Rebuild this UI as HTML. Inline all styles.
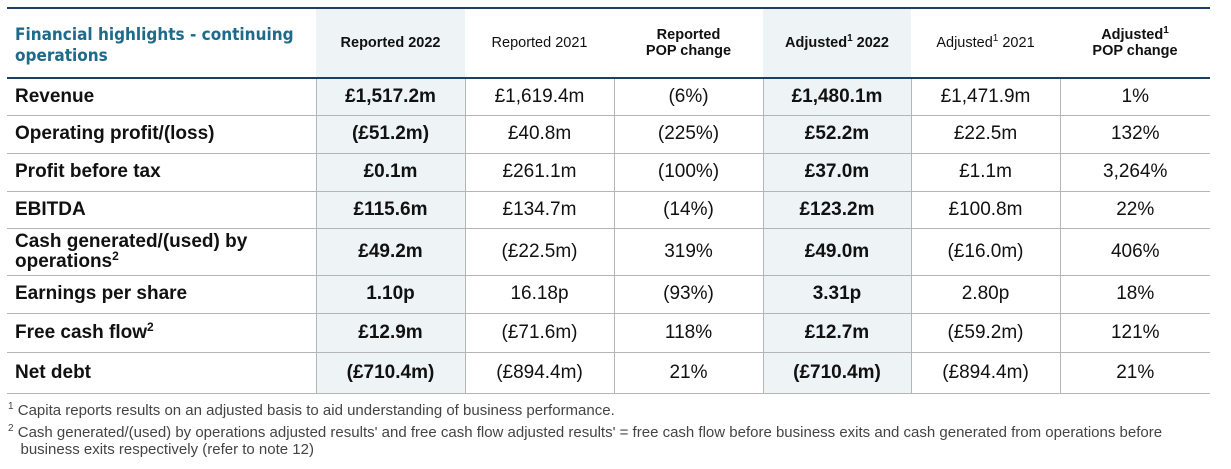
<!DOCTYPE html>
<html><head><meta charset="utf-8"><style>
body{margin:0;width:1231px;height:469px;background:#fff;font-family:"Liberation Sans",sans-serif;position:relative;overflow:hidden}
table{position:absolute;left:7px;top:7px;border-collapse:collapse;table-layout:fixed;width:1203px}
td,th{padding:0;text-align:center;color:#111;font-size:19px}
th{font-size:14.5px;font-weight:normal;height:62px;border-top:2px solid #1d3f66;border-bottom:2px solid #1d3f66}
th.b{font-weight:bold}
th.title{text-align:left;font-family:"DejaVu Sans Condensed","Liberation Sans",sans-serif;font-weight:bold;color:#1d6a8a;font-size:17px;line-height:21px;padding-left:8px;padding-top:6px}
td{border:1px solid #b5b5b5;border-top:none}
tr.r td{border-top:1px solid #b5b5b5}
td:first-child{border-left:none;text-align:left;font-weight:bold;padding-left:8px;line-height:20px}
td:last-child{border-right:none}
.sh{background:#eef4f5}
td.v{font-weight:bold}
sup{font-size:10px;vertical-align:6px;line-height:0}
td sup{font-size:12px;vertical-align:7px}
.fn{position:absolute;left:8px;font-size:15px;color:#444;line-height:17px}
</style></head><body>
<table>
<colgroup><col style="width:309px"><col style="width:149px"><col style="width:149px"><col style="width:149px"><col style="width:148px"><col style="width:149px"><col style="width:150px"></colgroup>
<tr>
<th class="title">Financial highlights - continuing operations</th>
<th class="b sh">Reported 2022</th>
<th>Reported 2021</th>
<th class="b">Reported<br>POP change</th>
<th class="b sh">Adjusted<sup>1</sup> 2022</th>
<th>Adjusted<sup>1</sup> 2021</th>
<th class="b">Adjusted<sup>1</sup><br>POP change</th>
</tr>
<tr style="height:37px"><td>Revenue</td><td class="sh v">£1,517.2m</td><td>£1,619.4m</td><td>(6%)</td><td class="sh v">£1,480.1m</td><td>£1,471.9m</td><td>1%</td></tr>
<tr style="height:38px"><td>Operating profit/(loss)</td><td class="sh v">(£51.2m)</td><td>£40.8m</td><td>(225%)</td><td class="sh v">£52.2m</td><td>£22.5m</td><td>132%</td></tr>
<tr style="height:38px"><td>Profit before tax</td><td class="sh v">£0.1m</td><td>£261.1m</td><td>(100%)</td><td class="sh v">£37.0m</td><td>£1.1m</td><td>3,264%</td></tr>
<tr style="height:37px"><td>EBITDA</td><td class="sh v">£115.6m</td><td>£134.7m</td><td>(14%)</td><td class="sh v">£123.2m</td><td>£100.8m</td><td>22%</td></tr>
<tr style="height:47px"><td>Cash generated/(used) by operations<sup>2</sup></td><td class="sh v">£49.2m</td><td>(£22.5m)</td><td>319%</td><td class="sh v">£49.0m</td><td>(£16.0m)</td><td>406%</td></tr>
<tr style="height:38px"><td>Earnings per share</td><td class="sh v">1.10p</td><td>16.18p</td><td>(93%)</td><td class="sh v">3.31p</td><td>2.80p</td><td>18%</td></tr>
<tr style="height:39px"><td>Free cash flow<sup>2</sup></td><td class="sh v">£12.9m</td><td>(£71.6m)</td><td>118%</td><td class="sh v">£12.7m</td><td>(£59.2m)</td><td>121%</td></tr>
<tr style="height:41px"><td>Net debt</td><td class="sh v">(£710.4m)</td><td>(£894.4m)</td><td>21%</td><td class="sh v">(£710.4m)</td><td>(£894.4m)</td><td>21%</td></tr>
</table>
<div class="fn" style="top:402px"><sup>1</sup> Capita reports results on an adjusted basis to aid understanding of business performance.</div>
<div class="fn" style="top:424px"><sup>2</sup> Cash generated/(used) by operations adjusted results' and free cash flow adjusted results' = free cash flow before business exits and cash generated from operations before<br>&nbsp;&nbsp;&nbsp;business exits respectively (refer to note 12)</div>
</body></html>
